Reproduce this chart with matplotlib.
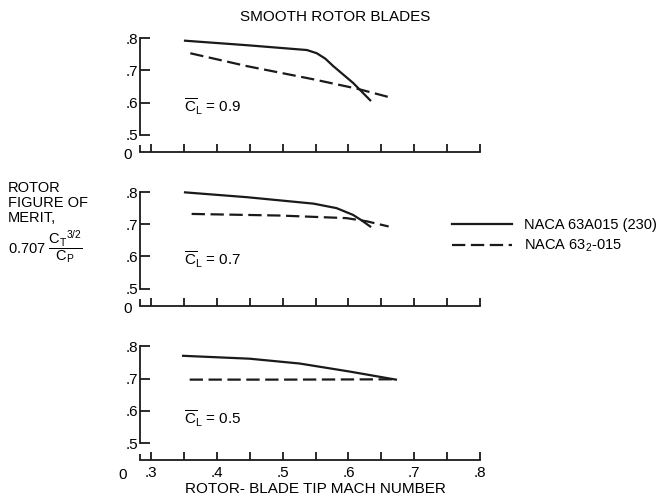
import matplotlib
matplotlib.use("Agg")
import matplotlib.pyplot as plt
from matplotlib.lines import Line2D

plt.rcParams['font.family'] = ['Liberation Sans', 'DejaVu Sans']
plt.rcParams['mathtext.fontset'] = 'custom'
plt.rcParams['mathtext.rm'] = 'Liberation Sans'
plt.rcParams['mathtext.it'] = 'Liberation Sans'

# data (mean lift coefficient 0.9, 0.7, 0.5)
cl_values = ["0.9", "0.7", "0.5"]

mach_solid_09 = [0.352, 0.446, 0.537, 0.552, 0.565, 0.577, 0.607, 0.633]
fm_solid_09 = [0.792, 0.778, 0.763, 0.753, 0.736, 0.713, 0.661, 0.607]
mach_dash_09 = [0.36, 0.446, 0.547, 0.613, 0.661]
fm_dash_09 = [0.753, 0.713, 0.672, 0.643, 0.617]

mach_solid_07 = [0.352, 0.446, 0.547, 0.582, 0.607, 0.620, 0.633]
fm_solid_07 = [0.799, 0.784, 0.764, 0.750, 0.729, 0.712, 0.693]
mach_dash_07 = [0.362, 0.496, 0.597, 0.628, 0.661]
fm_dash_07 = [0.732, 0.727, 0.719, 0.709, 0.693]

mach_solid_05 = [0.349, 0.45, 0.526, 0.602, 0.672]
fm_solid_05 = [0.771, 0.762, 0.747, 0.722, 0.697]
mach_dash_05 = [0.359, 0.50, 0.672]
fm_dash_05 = [0.697, 0.697, 0.698]

solid_x = [mach_solid_09, mach_solid_07, mach_solid_05]
solid_y = [fm_solid_09, fm_solid_07, fm_solid_05]
dash_x = [mach_dash_09, mach_dash_07, mach_dash_05]
dash_y = [fm_dash_09, fm_dash_07, fm_dash_05]

x_ticks = [0.3, 0.35, 0.4, 0.45, 0.5, 0.55, 0.6, 0.65, 0.7, 0.75, 0.8]
x_ticklabels = [".3", "", ".4", "", ".5", "", ".6", "", ".7", "", ".8"]
y_ticks = [0.5, 0.6, 0.7, 0.8]
y_ticklabels = [".5", ".6", ".7", ".8"]
labels = ["NACA 63A015 (230)", "NACA 63$_2$-015"]

# broken axes: "0" is drawn just below/left of the .5 and .3 marks
x_zero = 0.283
y_zero = 0.447

fig = plt.figure(figsize=(6.69, 5.03), dpi=100)
bottoms = [0.681, 0.375, 0.068]
cl_label_y = [0.585, 0.59, 0.575]
dash_style = (0, (6, 2.5))
lw = 1.3
ink = "#1a1a1a"

for i, b in enumerate(bottoms):
    ax = fig.add_axes([0.1761, b, 0.5910, 0.256])
    ax.set_xlim(0.25, 0.85)
    ax.set_ylim(0.42, 0.82)
    ax.plot(solid_x[i], solid_y[i], color=ink, lw=1.6)
    ax.plot(dash_x[i], dash_y[i], color=ink, lw=1.6, linestyle=dash_style)

    for s in ["top", "right"]:
        ax.spines[s].set_visible(False)
    ax.spines["left"].set_position(("data", x_zero))
    ax.spines["left"].set_bounds(0.5, 0.8)
    ax.spines["bottom"].set_position(("data", y_zero))
    ax.spines["bottom"].set_bounds(x_zero, 0.8)
    for s in ["left", "bottom"]:
        ax.spines[s].set_linewidth(lw)
        ax.spines[s].set_color(ink)
    # short stub of the y axis at zero
    ax.vlines(x_zero, y_zero, y_zero + 0.02, color=ink, lw=lw)

    ax.set_xticks(x_ticks)
    ax.set_yticks(y_ticks)
    ax.set_yticklabels(y_ticklabels)
    ax.tick_params(axis="y", direction="in", length=7, width=lw, pad=1,
                   labelsize=11, color=ink)
    ax.tick_params(axis="x", direction="in", length=6, width=lw, pad=4,
                   labelsize=11, color=ink)
    if i < 2:
        ax.set_xticklabels([""] * len(x_ticks))
        ax.text(x_zero - 0.012, y_zero - 0.01, "0", ha="right", va="center", fontsize=11)
    else:
        ax.set_xticklabels(x_ticklabels)
        ax.text(x_zero - 0.025, y_zero - 0.025, "0", ha="center", va="top", fontsize=11)
        ax.set_xlabel("ROTOR- BLADE TIP MACH NUMBER", fontsize=11, labelpad=2)

    ax.text(0.35, cl_label_y[i], r"$\overline{\mathrm{C}}_\mathrm{L}$ = " + cl_values[i],
            ha="left", va="center", fontsize=11)

    if i == 0:
        ax.set_title("SMOOTH ROTOR BLADES", fontsize=11, pad=8, x=0.55)
    if i == 1:
        handles = [Line2D([], [], color=ink, lw=1.6),
                   Line2D([], [], color=ink, lw=1.6, linestyle=dash_style)]
        ax.legend(handles, labels, loc="upper left", bbox_to_anchor=(0.676, 0.567),
                  bbox_transform=fig.transFigure, frameon=False, fontsize=10.5,
                  handlelength=4.1, handletextpad=0.85, labelspacing=0.4,
                  borderaxespad=0, borderpad=0)

fig.text(0.012, 0.596, "ROTOR\nFIGURE OF\nMERIT,", ha="left", va="center",
         fontsize=10.5, linespacing=1.1)
fig.text(0.012, 0.509, r"0.707 $\dfrac{\mathrm{C_T}^{3/2}}{\mathrm{C_P}}$", ha="left",
         va="center", fontsize=10.5)

fig.savefig("out.png", dpi=100)
